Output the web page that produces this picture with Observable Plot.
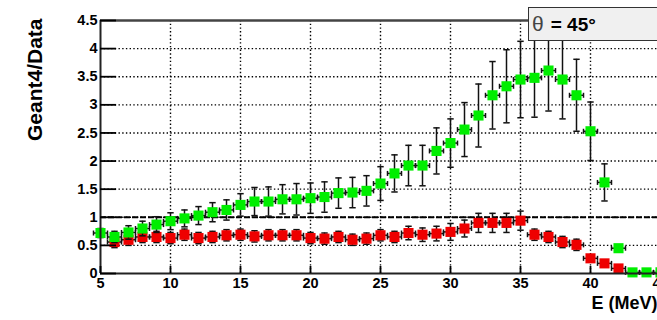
<!DOCTYPE html>
<html><head><meta charset="utf-8">
<script src="https://cdn.jsdelivr.net/npm/d3@7"></script>
<script src="https://cdn.jsdelivr.net/npm/@observablehq/plot@0.6"></script>
<style>
body{margin:0;background:#fff;overflow:hidden;font-family:"Liberation Sans",Arial,sans-serif;}
#wrap{position:relative;width:657px;height:320px;overflow:hidden;}
#wrap svg{display:block;}
#theta{position:absolute;left:528px;top:7px;width:140px;height:34px;background:#f0f0f0;border:1.5px solid #333;box-sizing:border-box;font-weight:bold;font-size:19px;line-height:32px;padding-left:3px;white-space:nowrap;}
#theta .sym{font-weight:normal;color:#444;font-size:21px;margin-right:7px;}
</style></head><body><div id="wrap"></div>
<script>
// ---- data ----
const energy = [5,6,7,8,9,10,11,12,13,14,15,16,17,18,19,20,21,22,23,24,25,26,27,28,29,30,31,32,33,34,35,36,37,38,39,40,41,42,43,44,45];
const greenRatio = [0.72,0.65,0.73,0.80,0.87,0.93,0.98,1.03,1.09,1.13,1.22,1.28,1.28,1.32,1.32,1.34,1.36,1.43,1.44,1.47,1.60,1.78,1.92,1.92,2.18,2.32,2.56,2.81,3.17,3.33,3.45,3.48,3.61,3.45,3.17,2.53,1.62,0.45,0.02,0.02,0.02];
const greenErr = [0.08,0.10,0.12,0.13,0.14,0.15,0.15,0.16,0.17,0.18,0.20,0.25,0.26,0.26,0.28,0.27,0.27,0.27,0.27,0.27,0.30,0.33,0.36,0.36,0.41,0.43,0.48,0.56,0.60,0.65,0.68,0.70,0.72,0.70,0.64,0.52,0.33,0.03,0,0,0];
const redEnergy = [6,7,8,9,10,11,12,13,14,15,16,17,18,19,20,21,22,23,24,25,26,27,28,29,30,31,32,33,34,35,36,37,38,39,40,41,42];
const redRatio = [0.56,0.60,0.65,0.65,0.63,0.69,0.63,0.65,0.68,0.69,0.66,0.68,0.68,0.68,0.63,0.62,0.65,0.60,0.62,0.68,0.65,0.72,0.69,0.71,0.74,0.80,0.90,0.90,0.90,0.94,0.69,0.65,0.56,0.51,0.27,0.18,0.09];
const redErr = [0.10,0.10,0.10,0.10,0.10,0.10,0.10,0.10,0.10,0.10,0.10,0.10,0.10,0.10,0.10,0.10,0.10,0.10,0.10,0.10,0.10,0.12,0.12,0.13,0.15,0.15,0.17,0.17,0.17,0.17,0.10,0.10,0.10,0.10,0.05,0.05,0.04];
const xTicks = [5,10,15,20,25,30,35,40,45];
const yTicks = [0,0.5,1,1.5,2,2.5,3,3.5,4,4.5];
const refLine = [1];
const xLabel = "E (MeV)";
const yLabel = "Geant4/Data";
const angleSymbol = "θ";
const angleText = "= 45°";

// ---- tables ----
const green = energy.map((e,i)=>({e, v: greenRatio[i], err: greenErr[i]}));
const red = redEnergy.map((e,i)=>({e, v: redRatio[i], err: redErr[i]}));

const hCap = {draw(ctx, size){const h = Math.sqrt(size/Math.PI); ctx.moveTo(-h,0); ctx.lineTo(h,0);}};
const vCap = {draw(ctx, size){const h = Math.sqrt(size/Math.PI); ctx.moveTo(0,-h); ctx.lineTo(0,h);}};

function series(data, color){
  const withErr = data.filter(d=>d.err>0);
  return [
    Plot.ruleX(withErr, {x:"e", y1:d=>d.v-d.err, y2:d=>d.v+d.err, stroke:"#111", strokeWidth:1.5}),
    Plot.dot(withErr, {x:"e", y:d=>d.v+d.err, symbol:hCap, r:3.2, stroke:"#111", fill:"none", strokeWidth:1.5}),
    Plot.dot(withErr, {x:"e", y:d=>d.v-d.err, symbol:hCap, r:3.2, stroke:"#111", fill:"none", strokeWidth:1.5}),
    Plot.ruleY(data, {y:"v", x1:d=>d.e-0.5, x2:d=>d.e+0.5, stroke:"#111", strokeWidth:1.5}),
    Plot.dot(data, {x:d=>d.e-0.5, y:"v", symbol:vCap, r:2.5, stroke:"#111", fill:"none", strokeWidth:1.5}),
    Plot.dot(data, {x:d=>d.e+0.5, y:"v", symbol:vCap, r:2.5, stroke:"#111", fill:"none", strokeWidth:1.5}),
    Plot.dot(data, {x:"e", y:"v", symbol:"square", r:5.7, fill:color, stroke:"none"})
  ];
}

const chart = Plot.plot({
  width: 657, height: 320,
  marginLeft: 100, marginRight: 0, marginTop: 20, marginBottom: 47,
  style: {fontFamily: "'Liberation Sans', Arial, sans-serif", background: "#fff"},
  x: {domain: [5,45], range: [100,660]},
  y: {domain: [0,4.5]},
  marks: [
    Plot.ruleX(xTicks.filter(t=>t>5 && t<45), {stroke:"#000", strokeWidth:1.4, strokeDasharray:"1.4,2.3"}),
    Plot.ruleY(yTicks.filter(t=>t>0 && t<4.5), {stroke:"#000", strokeWidth:1.4, strokeDasharray:"1.4,2.3"}),
    Plot.ruleY(refLine, {stroke:"#000", strokeWidth:2, strokeDasharray:"6,2"}),
    ...series(red, "#ee0000"),
    ...series(green, "#00ee00"),
    Plot.ruleY([yTicks[0]], {stroke:"#222", strokeWidth:2}),
    Plot.ruleY([yTicks[yTicks.length-1]], {stroke:"#444", strokeWidth:2.6}),
    Plot.ruleX([xTicks[0]], {stroke:"#222", strokeWidth:2}),
    Plot.axisY({ticks: yTicks, tickFormat: d=>String(d), tickSize: -16, tickPadding: 19, fontSize: 14.5, fontWeight: "bold", strokeWidth: 1.8, label: null}),
    Plot.axisX({ticks: xTicks, tickFormat: d=>String(d), tickSize: -7, tickPadding: 11, fontSize: 14.5, fontWeight: "bold", strokeWidth: 1.8, label: null}),
    Plot.text([xLabel], {text:d=>d, frameAnchor:"bottom-right", textAnchor:"end", dy:35, fontSize:18, fontWeight:"bold"}),
    Plot.text([yLabel], {text:d=>d, frameAnchor:"top-left", rotate:-90, textAnchor:"end", dx:-73, dy:-2, fontSize:21, fontWeight:"bold"})
  ]
});
const wrap = document.getElementById("wrap");
wrap.appendChild(chart);
const box = document.createElement("div");
box.id = "theta";
box.innerHTML = `<span class="sym">${angleSymbol}</span>${angleText}`;
wrap.appendChild(box);
</script></body></html>
